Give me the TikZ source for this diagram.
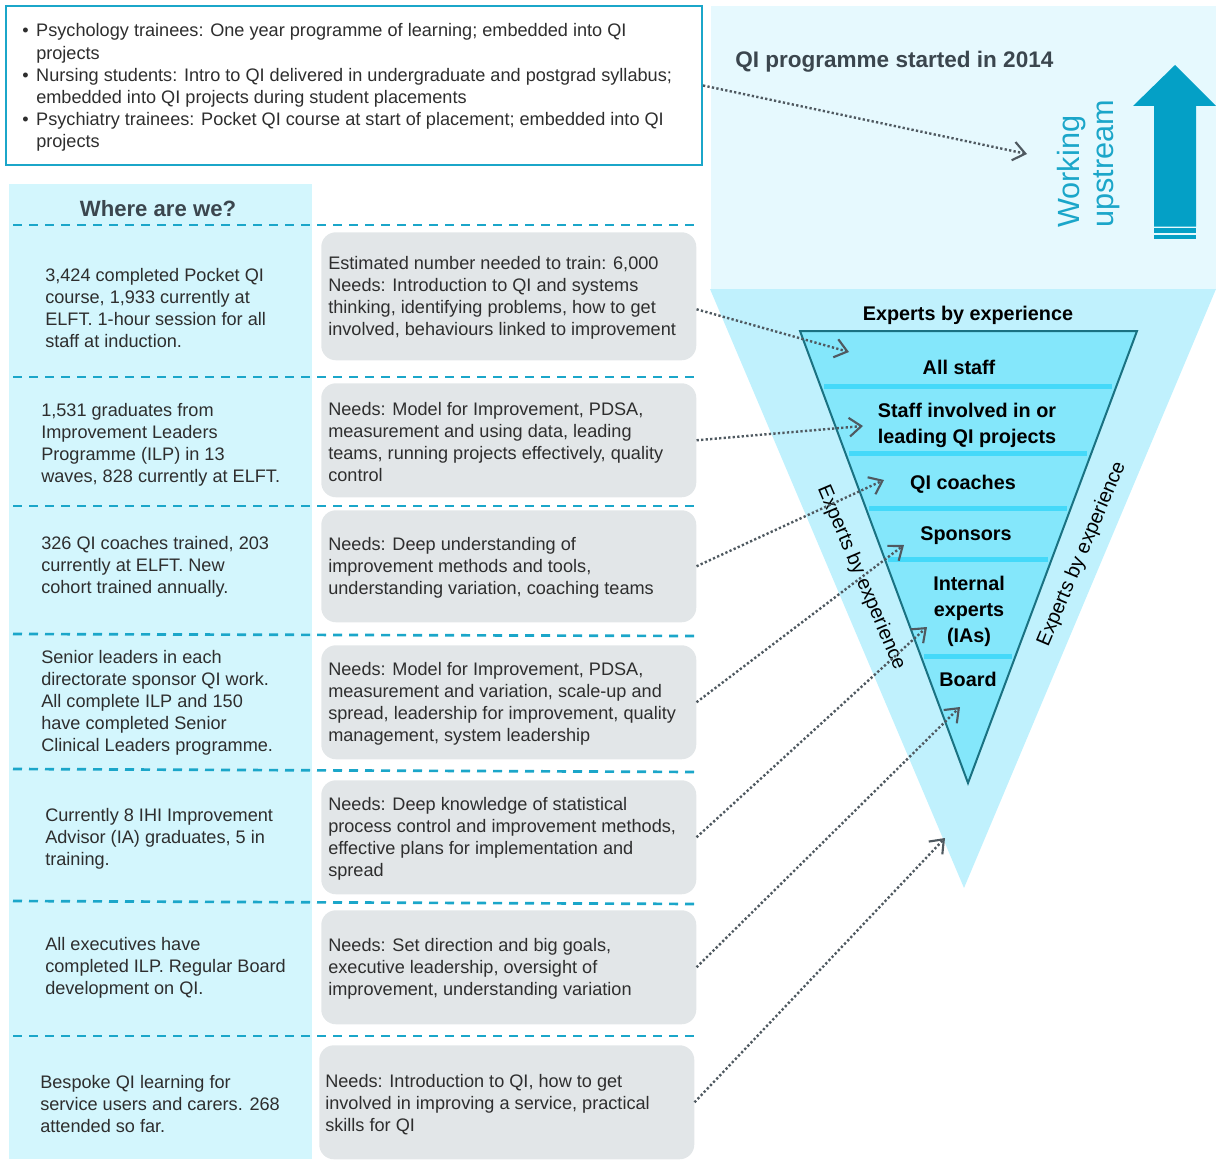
\documentclass[tikz,border=0pt]{standalone}
\usepackage{fontspec}
\setmainfont{Liberation Sans}
\usetikzlibrary{arrows.meta}
\definecolor{cyanline}{HTML}{1BA6C9}
\definecolor{leftbg}{HTML}{D3F6FD}
\definecolor{toprbg}{HTML}{E6F9FE}
\definecolor{bigtri}{HTML}{C0F1FD}
\definecolor{innertri}{HTML}{84E7FB}
\definecolor{innerline}{HTML}{1A7282}
\definecolor{barcol}{HTML}{44D9F9}
\definecolor{bigarrow}{HTML}{04A0C6}
\definecolor{graybox}{HTML}{E2E6E8}
\definecolor{dotcol}{HTML}{4F5960}
\definecolor{txt}{HTML}{2E2E2E}
\definecolor{headcol}{HTML}{3B464E}
\newcommand\bodyfont{\fontsize{13.6}{16.5}\selectfont}
\begin{document}
\begin{tikzpicture}[x=0.75pt,y=-0.75pt,
  body/.style={font=\bodyfont,text=txt,align=left,inner sep=0pt},
  needbox/.style={fill=graybox,rounded corners=11pt,minimum width=281.25pt,inner sep=0pt,anchor=north west},
  rowline/.style={cyanline,line width=2pt,dash pattern=on 6.75pt off 5.25pt},
  link/.style={dotcol,line width=1.8pt,dash pattern=on 1.7pt off 1.7pt,-{Straight Barb[length=9pt,width=14pt,line width=1.6pt]}},
  tri/.style={font=\fontsize{14.85}{19.5}\selectfont\bfseries,text=black,align=center,inner sep=0pt},
  side/.style={font=\fontsize{15}{17}\selectfont,text=black,inner sep=0pt},
]
\useasboundingbox (0,0) rectangle (1216,1159);

% backgrounds
\fill[leftbg] (9,184) rectangle (312,1159);
\fill[toprbg] (711,6) rectangle (1216,290);
\fill[bigtri] (710,289) -- (1216,289) -- (964,888) -- cycle;
\filldraw[fill=innertri,draw=innerline,line width=1.5pt] (800,331) -- (1137,331) -- (968,783) -- cycle;
\fill[barcol] (824,383.5) rectangle (1112,388.5);
\fill[barcol] (849,450.5) rectangle (1087,455.5);
\fill[barcol] (869,505.5) rectangle (1067,510.5);
\fill[barcol] (888,556.5) rectangle (1048,561.5);
\fill[barcol] (924,653.5) rectangle (1012,658.5);

% big up arrow
\fill[bigarrow] (1175,65) -- (1216,106) -- (1196,106) -- (1196,226.5) -- (1154,226.5) -- (1154,106) -- (1133,106) -- cycle;
\fill[bigarrow] (1154,228) rectangle (1196,232.5);
\fill[bigarrow] (1154,234.5) rectangle (1196,238.5);
\node[font=\fontsize{23}{25.5}\selectfont,text=cyanline,rotate=90,align=left,anchor=north west,inner sep=0pt] (wu) at (1057,228) {Working\\upstream};
\node[font=\fontsize{16.9}{20}\selectfont\bfseries,text=headcol,anchor=west,inner sep=0pt] (qi) at (735,61.5) {QI programme started in 2014};

% top box
\node[draw=cyanline,line width=1.5pt,fill=white,minimum width=522pt,minimum height=119.25pt,inner sep=0pt] (topbox) at (354,85.5) {};
\node[font=\fontsize{13.6}{16.65}\selectfont,text=txt,anchor=west,inner sep=0pt] (toptext) at (22,88) {\begin{tabular}{@{}p{10.5pt}@{}l@{}}
• & Psychology trainees: One year programme of learning; embedded into QI\\
 & projects\\
• & Nursing students: Intro to QI delivered in undergraduate and postgrad syllabus;\\
 & embedded into QI projects during student placements\\
• & Psychiatry trainees: Pocket QI course at start of placement; embedded into QI\\
 & projects
\end{tabular}};

% left column
\node[font=\fontsize{16.6}{20}\selectfont\bfseries,text=headcol,inner sep=0pt] (where) at (158,209) {Where are we?};
\draw[rowline] (13,225) -- (697,225);
\draw[rowline] (13,377) -- (697,377);
\draw[rowline] (13,506) -- (697,506);
\draw[rowline] (13,634) -- (697,636);
\draw[rowline] (13,769) -- (697,772);
\draw[rowline] (13,901) -- (697,904);
\draw[rowline] (13,1036) -- (697,1036);

\node[body,anchor=west] (l1) at (45,308) {3,424 completed Pocket QI\\course, 1,933 currently at\\ELFT. 1-hour session for all\\staff at induction.};
\node[body,anchor=west] (l2) at (41,445) {1,531 graduates from\\Improvement Leaders\\Programme (ILP) in 13\\waves, 828 currently at ELFT.};
\node[body,anchor=west] (l3) at (41,567) {326 QI coaches trained, 203\\currently at ELFT. New\\cohort trained annually.};
\node[body,anchor=west] (l4) at (41,703) {Senior leaders in each\\directorate sponsor QI work.\\All complete ILP and 150\\have completed Senior\\Clinical Leaders programme.};
\node[body,anchor=west] (l5) at (45,839) {Currently 8 IHI Improvement\\Advisor (IA) graduates, 5 in\\training.};
\node[body,anchor=west] (l6) at (45,968) {All executives have\\completed ILP. Regular Board\\development on QI.};
\node[body,anchor=west] (l7) at (40,1104) {Bespoke QI learning for\\service users and carers. 268\\attended so far.};

% need boxes
\node[needbox,minimum height=96pt] (b1) at (321,232) {};
\node[needbox,minimum height=85.5pt] (b2) at (321,383) {};
\node[needbox,minimum height=84pt] (b3) at (321,510) {};
\node[needbox,minimum height=85.5pt] (b4) at (321,645) {};
\node[needbox,minimum height=85.5pt] (b5) at (321,780) {};
\node[needbox,minimum height=85.5pt] (b6) at (321,910) {};
\node[needbox,minimum height=85.5pt] (b7) at (319,1045) {};

\node[body,anchor=west] (t1) at ([xshift=5.25pt,yshift=-1.5pt]b1.west) {Estimated number needed to train: 6,000\\Needs: Introduction to QI and systems\\thinking, identifying problems, how to get\\involved, behaviours linked to improvement};
\node[body,anchor=west] (t2) at ([xshift=5.25pt,yshift=-1.5pt]b2.west) {Needs: Model for Improvement, PDSA,\\measurement and using data, leading\\teams, running projects effectively, quality\\control};
\node[body,anchor=west] (t3) at ([xshift=5.25pt,yshift=-1.5pt]b3.west) {Needs: Deep understanding of\\improvement methods and tools,\\understanding variation, coaching teams};
\node[body,anchor=west] (t4) at ([xshift=5.25pt,yshift=-1.5pt]b4.west) {Needs: Model for Improvement, PDSA,\\measurement and variation, scale-up and\\spread, leadership for improvement, quality\\management, system leadership};
\node[body,anchor=west] (t5) at ([xshift=5.25pt,yshift=-1.5pt]b5.west) {Needs: Deep knowledge of statistical\\process control and improvement methods,\\effective plans for implementation and\\spread};
\node[body,anchor=west] (t6) at ([xshift=5.25pt,yshift=-1.5pt]b6.west) {Needs: Set direction and big goals,\\executive leadership, oversight of\\improvement, understanding variation};
\node[body,anchor=west] (t7) at ([xshift=4.5pt,yshift=-1.5pt]b7.west) {Needs: Introduction to QI, how to get\\involved in improving a service, practical\\skills for QI};

% triangle labels
\node[tri] (eex) at (968,315) {Experts by experience};
\node[tri] (allstaff) at (959,367) {All staff};
\node[tri] (involved) at (967,425) {Staff involved in or\\leading QI projects};
\node[tri] (coaches) at (963,484) {QI coaches};
\node[tri] (sponsors) at (966,536) {Sponsors};
\node[tri] (internal) at (969,611) {Internal\\experts\\(IAs)};
\node[tri] (board) at (968,679) {Board};
\node[side,rotate=-67] (exl) at (861,578) {Experts by experience};
\node[side,rotate=67] (exr) at (1082,554) {Experts by experience};

% arrows
\coordinate (p0) at (1027,154);
\coordinate (p1) at (849,352);
\coordinate (p2) at (863,426);
\coordinate (p3) at (884,480);
\coordinate (p4) at (904,545);
\coordinate (p5) at (927,627);
\coordinate (p6) at (960,707);
\coordinate (p7) at (945,838);
\draw[link] (topbox.east) -- (p0);
\draw[link] ([yshift=-9.75pt]b1.east) -- (p1);
\draw[link] (b2.east) -- (p2);
\draw[link] (b3.east) -- (p3);
\draw[link] (b4.east) -- (p4);
\draw[link] (b5.east) -- (p5);
\draw[link] (b6.east) -- (p6);
\draw[link] (b7.east) -- (p7);
\end{tikzpicture}
\end{document}
